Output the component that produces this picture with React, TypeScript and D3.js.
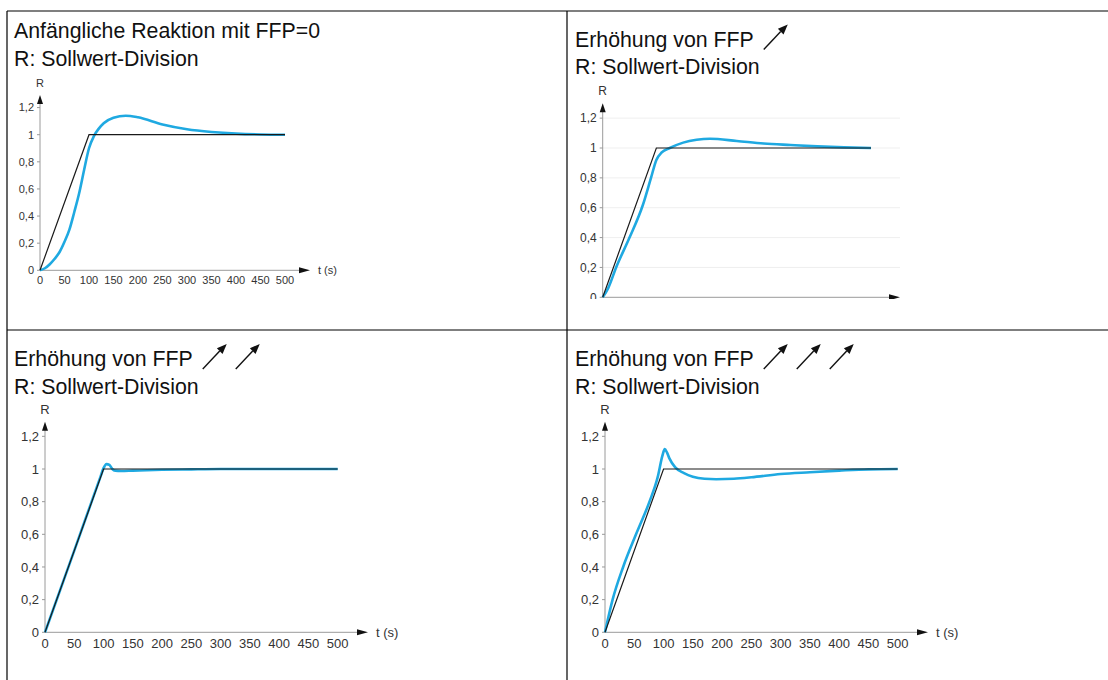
import * as d3 from "d3";
import { useEffect, useRef } from "react";

// ---- Daten ----
const setpointT = [0, 100, 500];
const setpointR = [0, 1, 1];

const xTicks = [0, 50, 100, 150, 200, 250, 300, 350, 400, 450, 500];
const yTicks = [0, 0.2, 0.4, 0.6, 0.8, 1, 1.2];
const yTickLabels = ["0", "0,2", "0,4", "0,6", "0,8", "1", "1,2"];

const titles = [
  "Anfängliche Reaktion mit FFP=0",
  "Erhöhung von FFP",
  "Erhöhung von FFP",
  "Erhöhung von FFP",
];
const subtitle = "R: Sollwert-Division";
const arrowCounts = [0, 1, 2, 3];

// Antwort R(t) je Feld
const resp1T = [0, 10, 20, 30, 40, 50, 60, 70, 80, 90, 100, 110, 120, 130, 150, 175, 200, 250, 300, 350, 400, 450, 500];
const resp1R = [0, 0.015, 0.045, 0.085, 0.135, 0.21, 0.3, 0.43, 0.57, 0.74, 0.9, 0.99, 1.045, 1.085, 1.125, 1.14, 1.128, 1.075, 1.04, 1.02, 1.008, 1.002, 1.0];

const resp2T = [0, 10, 25, 50, 75, 90, 100, 110, 125, 150, 175, 200, 250, 300, 350, 400, 450, 500];
const resp2R = [0, 0.06, 0.2, 0.4, 0.62, 0.8, 0.92, 0.97, 1.0, 1.036, 1.055, 1.062, 1.047, 1.03, 1.02, 1.011, 1.004, 1.0];

const resp3T = [0, 50, 95, 100, 105, 110, 115, 120, 130, 150, 200, 250, 300, 500];
const resp3R = [0, 0.5, 0.955, 1.005, 1.03, 1.025, 1.0, 0.99, 0.988, 0.99, 0.995, 0.998, 1.0, 1.0];

const resp4T = [0, 13, 31, 53, 76, 90, 98, 102, 106, 110, 120, 135, 150, 170, 190, 220, 250, 300, 350, 400, 450, 500];
const resp4R = [0, 0.2, 0.4, 0.6, 0.8, 0.95, 1.08, 1.122, 1.1, 1.065, 1.01, 0.975, 0.953, 0.94, 0.937, 0.94, 0.949, 0.969, 0.98, 0.99, 0.998, 1.0];

const respT = [resp1T, resp2T, resp3T, resp4T];
const respR = [resp1R, resp2R, resp3R, resp4R];

// ---- Layout der vier Felder ----
const panels = [
  { tx: 14, ty: 38, ox: 40, y0: 270.3, w: 245, unit: 135.6, yTop: 95, xEnd: 310, fs: 11, xlab: 14, clip: null },
  { tx: 575, ty: 46.5, ox: 602.7, y0: 297.3, w: 268.3, unit: 149.3, yTop: 103.3, xEnd: 900, fs: 12, xlab: 15, clip: { x: 568, y: 80, w: 334, h: 219 } },
  { tx: 14, ty: 366, ox: 45, y0: 632.3, w: 292.7, unit: 163.3, yTop: 421.7, xEnd: 368, fs: 13, xlab: 16, clip: null },
  { tx: 575, ty: 366, ox: 605, y0: 632.3, w: 292.7, unit: 163.3, yTop: 421.7, xEnd: 928, fs: 13, xlab: 16, clip: null },
];

const FONT = "'Liberation Sans', Arial, Helvetica, sans-serif";
const BLUE = "#1fa9e1";

export default function App() {
  const ref = useRef<SVGSVGElement | null>(null);

  useEffect(() => {
    const svg = d3.select(ref.current);
    svg.selectAll("*").remove();
    const defs = svg.append("defs");

    // ---- Tabellenrahmen ----
    const frame = svg.append("g").attr("stroke", "#000").attr("stroke-width", 1.2);
    frame.append("line").attr("x1", 7).attr("x2", 1108).attr("y1", 11).attr("y2", 11);
    frame.append("line").attr("x1", 7).attr("x2", 1108).attr("y1", 330).attr("y2", 330);
    frame.append("line").attr("x1", 7).attr("x2", 7).attr("y1", 11).attr("y2", 680);
    frame.append("line").attr("x1", 567).attr("x2", 567).attr("y1", 11).attr("y2", 680);

    panels.forEach((p, i) => {
      // ---- Titel ----
      const title = svg
        .append("text")
        .attr("x", p.tx)
        .attr("y", p.ty)
        .attr("font-family", FONT)
        .attr("font-size", 21.3)
        .attr("fill", "#111")
        .text(titles[i]);
      svg
        .append("text")
        .attr("x", p.tx)
        .attr("y", p.ty + 27.5)
        .attr("font-family", FONT)
        .attr("font-size", 21.3)
        .attr("fill", "#111")
        .text(subtitle);

      // Pfeile hinter dem Titel
      const tw = (title.node() as SVGTextElement).getComputedTextLength();
      for (let k = 0; k < arrowCounts[i]; k++) {
        const ax = p.tx + tw + 10 + k * 33;
        const by = p.ty + 3;
        const tip = [ax + 24, by - 25];
        const u = [Math.SQRT1_2, -Math.SQRT1_2];
        const n = [Math.SQRT1_2, Math.SQRT1_2];
        const base = [tip[0] - 10 * u[0], tip[1] - 10 * u[1]];
        svg
          .append("line")
          .attr("x1", ax)
          .attr("y1", by)
          .attr("x2", base[0])
          .attr("y2", base[1])
          .attr("stroke", "#111")
          .attr("stroke-width", 1.4);
        svg
          .append("polygon")
          .attr(
            "points",
            [tip, [base[0] + 4 * n[0], base[1] + 4 * n[1]], [base[0] - 4 * n[0], base[1] - 4 * n[1]]]
              .map((q) => q.join(","))
              .join(" ")
          )
          .attr("fill", "#111");
      }

      // ---- Diagramm ----
      const g = svg.append("g");
      if (p.clip) {
        defs
          .append("clipPath")
          .attr("id", `clip${i}`)
          .append("rect")
          .attr("x", p.clip.x)
          .attr("y", p.clip.y)
          .attr("width", p.clip.w)
          .attr("height", p.clip.h);
        g.attr("clip-path", `url(#clip${i})`);
      }

      const x = d3.scaleLinear().domain([0, 500]).range([p.ox, p.ox + p.w]);
      const y = d3.scaleLinear().domain([0, 1.2]).range([p.y0, p.y0 - 1.2 * p.unit]);

      // Hilfslinien (nur Feld 2, sehr blass)
      if (p.clip) {
        g.append("g")
          .attr("stroke", "#efefef")
          .selectAll("line")
          .data(yTicks.slice(1))
          .join("line")
          .attr("x1", x(0))
          .attr("x2", p.xEnd)
          .attr("y1", (d) => y(d))
          .attr("y2", (d) => y(d));
      }

      // Achsen
      g.append("line")
        .attr("x1", x(0))
        .attr("x2", x(0))
        .attr("y1", y(0))
        .attr("y2", p.yTop + 6)
        .attr("stroke", "#9a9a9a");
      g.append("polygon")
        .attr("points", `${x(0)},${p.yTop} ${x(0) - 3},${p.yTop + 9} ${x(0) + 3},${p.yTop + 9}`)
        .attr("fill", "#111");
      g.append("line")
        .attr("x1", x(0))
        .attr("x2", p.xEnd - 8)
        .attr("y1", y(0))
        .attr("y2", y(0))
        .attr("stroke", "#9a9a9a");
      g.append("polygon")
        .attr("points", `${p.xEnd},${y(0)} ${p.xEnd - 11},${y(0) - 3} ${p.xEnd - 11},${y(0) + 3}`)
        .attr("fill", "#111");

      // y-Ticks
      g.append("g")
        .attr("stroke", "#9a9a9a")
        .selectAll("line")
        .data(yTicks)
        .join("line")
        .attr("x1", x(0) - 3)
        .attr("x2", x(0))
        .attr("y1", (d) => y(d))
        .attr("y2", (d) => y(d));
      g.append("g")
        .selectAll("text")
        .data(yTicks)
        .join("text")
        .attr("x", x(0) - 6)
        .attr("y", (d) => y(d))
        .attr("dy", "0.35em")
        .attr("text-anchor", "end")
        .attr("font-family", FONT)
        .attr("font-size", p.fs)
        .attr("fill", "#333")
        .text((_, j) => yTickLabels[j]);

      // x-Beschriftung
      g.append("g")
        .selectAll("text")
        .data(xTicks)
        .join("text")
        .attr("x", (d) => x(d))
        .attr("y", y(0) + p.xlab)
        .attr("text-anchor", "middle")
        .attr("font-family", FONT)
        .attr("font-size", p.fs)
        .attr("fill", "#333")
        .text((d) => String(d));

      g.append("text")
        .attr("x", x(0))
        .attr("y", p.yTop - 8)
        .attr("text-anchor", "middle")
        .attr("font-family", FONT)
        .attr("font-size", p.fs)
        .attr("fill", "#333")
        .text("R");
      g.append("text")
        .attr("x", p.xEnd + 8)
        .attr("y", y(0))
        .attr("dy", "0.35em")
        .attr("font-family", FONT)
        .attr("font-size", p.fs)
        .attr("fill", "#333")
        .text("t (s)");

      // Kurven
      const line = d3
        .line<number>()
        .x((d) => x(d))
        .curve(d3.curveMonotoneX);
      const tr = respT[i];
      const rr = respR[i];
      g.append("path")
        .attr("d", line.y((_, j) => y(rr[j]))(tr))
        .attr("fill", "none")
        .attr("stroke", BLUE)
        .attr("stroke-width", 2.6);

      const sp = d3
        .line<number>()
        .x((d) => x(d))
        .y((_, j) => y(setpointR[j]));
      g.append("path")
        .attr("d", sp(setpointT))
        .attr("fill", "none")
        .attr("stroke", "#1a1a1a")
        .attr("stroke-width", 1.2);
    });
  }, []);

  return (
    <svg
      ref={ref}
      width={1108}
      height={680}
      viewBox="0 0 1108 680"
      style={{ position: "absolute", left: 0, top: 0, background: "#fff" }}
    />
  );
}
